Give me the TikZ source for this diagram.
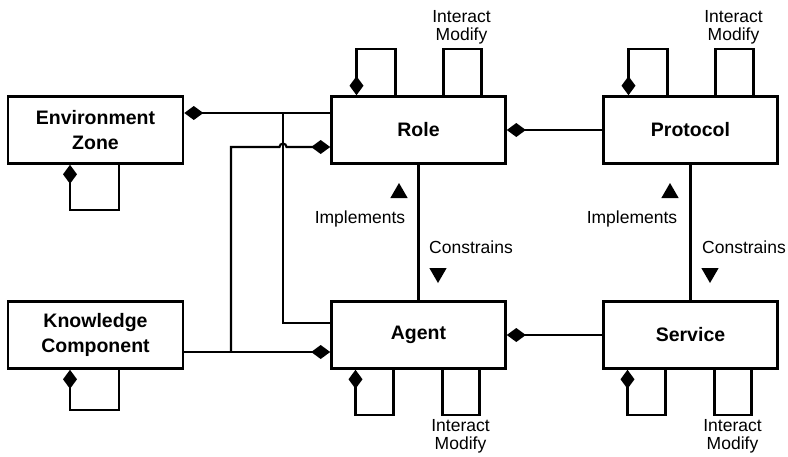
\documentclass[tikz,border=0pt]{standalone}
\usepackage{fontspec}
\setmainfont{Liberation Sans}
\usetikzlibrary{arrows.meta,shapes.geometric}
\tikzset{own/.tip={Diamond[length=19pt,width=14pt]}}
\begin{document}
\begin{tikzpicture}[x=1pt,y=-1pt,
  box/.style={draw,line width=2.6pt,minimum width=174pt,minimum height=67pt,
    inner sep=0pt,align=center,font=\bfseries\fontsize{19.5}{25}\selectfont},
  wire/.style={line width=2.1pt},
  lbl/.style={font=\fontsize{17.5}{18}\selectfont,inner sep=0pt,align=center},
  tri/.style={regular polygon,regular polygon sides=3,fill,draw=none,
    inner sep=0pt,minimum size=20pt}
]
\useasboundingbox (0,0) rectangle (788,456);

% classes
\node[box,minimum width=175pt] (env)   at (95.5,130) {Environment\\Zone};
\node[box,minimum width=175pt] (know)  at (95.5,335) {Knowledge\\Component};
\node[box] (role)  at (418.5,130) {Role};
\node[box] (agent) at (418.5,335) {Agent};
\node[box] (proto) at (690.5,130) {Protocol};
\node[box] (serv)  at (690.5,335) {Service};

% associations between the classes
\draw[wire,own-] ([yshift=17pt]env.east) -- ([yshift=17pt]role.west);
\coordinate (ja) at (283,113);
\draw[wire] (ja) |- ([yshift=12pt]agent.west);
\draw[wire,-own] ([yshift=-17pt]know.east) -- ([yshift=-17pt]agent.west);
\coordinate (jb) at (231,352);
\coordinate (rl) at ([yshift=-17pt]role.west);
\draw[wire,-own] (jb) |- ([xshift=-3.5pt]ja |- rl) arc (180:360:3.5) -- (rl);
\draw[wire,own-] (role.east) -- (proto.west);
\draw[wire,own-] (agent.east) -- (serv.west);
\draw[wire] (role) -- (agent);
\draw[wire] (proto) -- (serv);

% self associations
\draw[wire,-own] ([xshift=23.5pt]env.south) -- ++(0,45) -| ([xshift=-25.5pt]env.south);
\draw[wire,-own] ([xshift=23.5pt]know.south) -- ++(0,40) -| ([xshift=-25.5pt]know.south);
\foreach \c in {role,proto}{
  \draw[wire,-own] ([xshift=-23pt]\c.north) -- ++(0,-46) -| ([xshift=-62pt]\c.north);
  \draw[wire] ([xshift=25pt]\c.north) -- ++(0,-46) -| ([xshift=63pt]\c.north);
  \node[lbl] (\c-im) at ([xshift=43pt,yshift=68pt]\c.north) {Interact\\Modify};
}
\foreach \c in {agent,serv}{
  \draw[wire,-own] ([xshift=-25pt]\c.south) -- ++(0,45) -| ([xshift=-63pt]\c.south);
  \draw[wire] ([xshift=24pt]\c.south) -- ++(0,45) -| ([xshift=61pt]\c.south);
  \node[lbl] (\c-im) at ([xshift=42pt,yshift=-66pt]\c.south) {Interact\\Modify};
}

% realisation markers
\node[tri] (upa) at (399,193) {};
\node[lbl] (impa) at (360,219) {Implements};
\node[lbl,anchor=west] (cona) at (429,247) {Constrains};
\node[tri,rotate=180] (dna) at (438,273) {};
\node[tri] (upb) at (670,193) {};
\node[lbl] (impb) at (632,219) {Implements};
\node[lbl,anchor=west] (conb) at (702,247) {Constrains};
\node[tri,rotate=180] (dnb) at (710,273) {};
\end{tikzpicture}
\end{document}
